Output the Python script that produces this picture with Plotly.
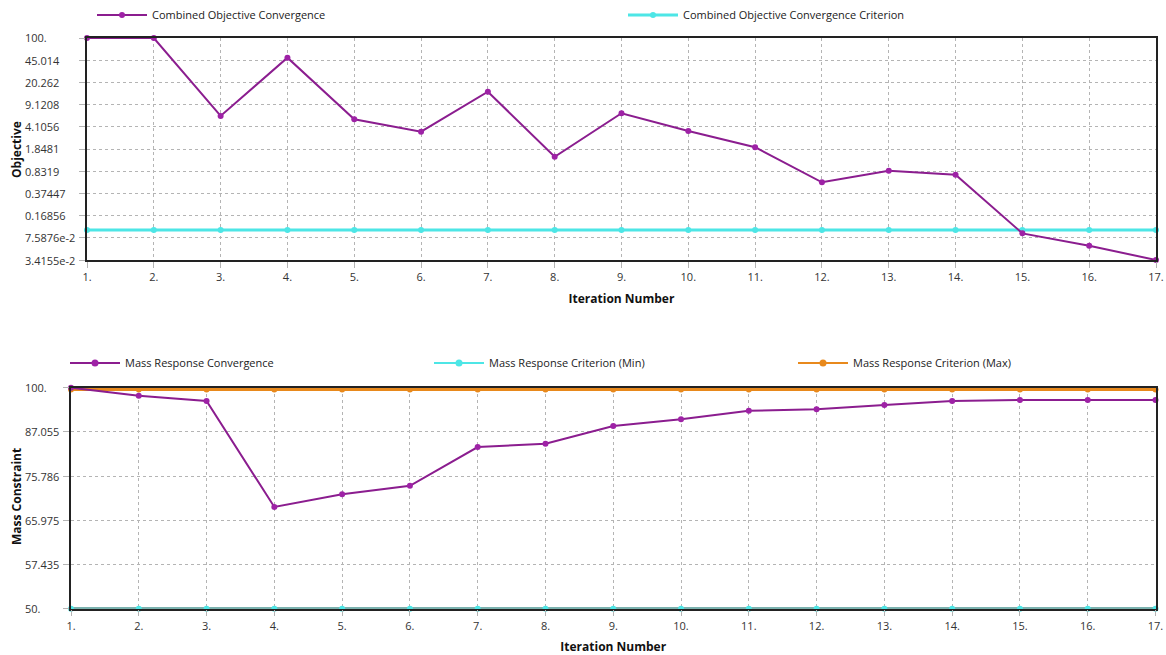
import math
import plotly.graph_objects as go

W, H = 1166, 655

iterations = list(range(1, 18))
x_tick_text = [f"{i}." for i in iterations]

objective = [100, 100, 6.07, 49.3, 5.38, 3.44, 14.5, 1.40, 6.68, 3.53, 1.97,
             0.558, 0.846, 0.73, 0.089, 0.057, 0.034155]
objective_criterion = [0.1] * 17

mass = [100, 97.5, 95.9, 68.8, 71.6, 73.5, 83.0, 83.9, 88.7, 90.6, 93.0,
        93.5, 94.7, 95.9, 96.2, 96.2, 96.2]
mass_min = [50] * 17
mass_max = [99.4] * 17

obj_tick_vals = [100, 45.014, 20.262, 9.1208, 4.1056, 1.8481, 0.8319,
                 0.37447, 0.16856, 0.075876, 0.034155]
obj_tick_text = ["100.", "45.014", "20.262", "9.1208", "4.1056", "1.8481",
                 "0.8319", "0.37447", "0.16856", "7.5876e-2", "3.4155e-2"]
mass_tick_vals = [100, 87.055, 75.786, 65.975, 57.435, 50]
mass_tick_text = ["100.", "87.055", "75.786", "65.975", "57.435", "50."]

PURPLE = "#8B1D8F"
PURPLE_M = "#9E22A6"
CYAN = "#4DE6E6"
TEAL = "#4E9994"
ORANGE = "#E8891C"
FONT = "Open Sans"

def px_x(p):
    return p / W

def px_y(p):
    return 1 - p / H

obj_range = [math.log10(min(obj_tick_vals)) - 1e-6, math.log10(max(obj_tick_vals)) + 1e-6]
mass_range = [math.log10(min(mass_tick_vals)) - 1e-6, math.log10(max(mass_tick_vals)) + 1e-6]

fig = go.Figure()

# top chart (cyan first so the purple line is drawn above it)
fig.add_trace(go.Scatter(x=iterations, y=objective_criterion, mode="lines+markers",
                         name="Combined Objective Convergence Criterion", legendrank=2,
                         line=dict(color=CYAN, width=3),
                         marker=dict(color=CYAN, size=6),
                         xaxis="x", yaxis="y", legend="legend", cliponaxis=False))
fig.add_trace(go.Scatter(x=iterations, y=objective, mode="lines+markers",
                         name="Combined Objective Convergence", legendrank=1,
                         line=dict(color=PURPLE, width=2),
                         marker=dict(color=PURPLE_M, size=6),
                         xaxis="x", yaxis="y", legend="legend", cliponaxis=False))

# bottom chart
fig.add_trace(go.Scatter(x=iterations, y=mass_min, mode="lines+markers",
                         name="Mass Response Criterion (Min)", showlegend=False,
                         line=dict(color=TEAL, width=3),
                         marker=dict(color=CYAN, size=6),
                         xaxis="x2", yaxis="y2", cliponaxis=False))
fig.add_trace(go.Scatter(x=iterations, y=mass_max, mode="lines+markers",
                         name="Mass Response Criterion (Max)", showlegend=False,
                         line=dict(color=ORANGE, width=3),
                         marker=dict(color=ORANGE, size=6),
                         xaxis="x2", yaxis="y2", cliponaxis=False))
fig.add_trace(go.Scatter(x=iterations, y=mass, mode="lines+markers",
                         name="Mass Response Convergence", showlegend=False,
                         line=dict(color=PURPLE, width=2),
                         marker=dict(color=PURPLE_M, size=6),
                         xaxis="x2", yaxis="y2", cliponaxis=False))
# legend entries for bottom chart
for nm, lc, mc in [("Mass Response Convergence", PURPLE, PURPLE_M),
                   ("Mass Response Criterion (Min)", CYAN, CYAN),
                   ("Mass Response Criterion (Max)", ORANGE, ORANGE)]:
    fig.add_trace(go.Scatter(x=[None], y=[None], mode="lines+markers", name=nm,
                             line=dict(color=lc, width=2),
                             marker=dict(color=mc, size=7),
                             xaxis="x2", yaxis="y2", legend="legend2"))

grid = dict(showgrid=True, gridcolor="#B4B4B4", griddash="3px,3px", gridwidth=1,
            ticks="outside", ticklen=6, tickcolor="#B4B4B4", zeroline=False,
            automargin=False)

xcommon = dict(range=[1, 17], tickvals=iterations, ticktext=x_tick_text,
               tickfont=dict(family=FONT, size=11, color="#333"),
               showline=True, linecolor="#222", linewidth=1.5, mirror=True,
               title=dict(text="<b>Iteration Number</b>",
                          font=dict(family=FONT, size=12, color="#111"), standoff=12),
               **grid)

legend_common = dict(orientation="h", xanchor="left", yanchor="middle",
                     entrywidthmode="pixels", itemwidth=50, traceorder="normal",
                     font=dict(family=FONT, size=11, color="#222"),
                     bgcolor="rgba(0,0,0,0)")

fig.update_layout(
    width=W, height=H, margin=dict(l=0, r=0, t=0, b=0, autoexpand=False),
    paper_bgcolor="white", plot_bgcolor="white",
    xaxis=dict(domain=[px_x(87), px_x(1156)], anchor="y", **xcommon),
    yaxis=dict(domain=[px_y(260), px_y(38)], anchor="x", type="log",
               range=obj_range, tickvals=obj_tick_vals, showticklabels=False,
               showline=True, linecolor="#222", linewidth=1.5, mirror=True, **grid),
    xaxis2=dict(domain=[px_x(71), px_x(1155.5)], anchor="y2", **xcommon),
    yaxis2=dict(domain=[px_y(608.7), px_y(387.7)], anchor="x2", type="log",
                range=mass_range, tickvals=mass_tick_vals, showticklabels=False,
                showline=True, linecolor="#222", linewidth=1.5, mirror=True, **grid),
    legend=dict(x=px_x(92), y=px_y(15), entrywidth=466, **legend_common),
    legend2=dict(x=px_x(65), y=px_y(363), entrywidth=299, **legend_common),
    showlegend=True,
)

annotations = []
for v, t in zip(obj_tick_vals, obj_tick_text):
    annotations.append(dict(x=px_x(23), xref="paper", y=math.log10(v), yref="y", text=t,
                            showarrow=False, xanchor="left", yanchor="middle",
                            font=dict(family=FONT, size=11, color="#333")))
for v, t in zip(mass_tick_vals, mass_tick_text):
    annotations.append(dict(x=px_x(23), xref="paper", y=math.log10(v), yref="y2", text=t,
                            showarrow=False, xanchor="left", yanchor="middle",
                            font=dict(family=FONT, size=11, color="#333")))
annotations.append(dict(x=px_x(17), xref="paper", y=px_y(150), yref="paper",
                        text="<b>Objective</b>", textangle=-90, showarrow=False,
                        xanchor="center", yanchor="middle",
                        font=dict(family=FONT, size=12, color="#111")))
annotations.append(dict(x=px_x(17), xref="paper", y=px_y(497), yref="paper",
                        text="<b>Mass Constraint</b>", textangle=-90, showarrow=False,
                        xanchor="center", yanchor="middle",
                        font=dict(family=FONT, size=12, color="#111")))
fig.update_layout(annotations=annotations)

fig.write_html("out.html", config={"displayModeBar": False},
               post_script="document.body.style.margin='0';"
                           "document.body.style.overflow='hidden';")
